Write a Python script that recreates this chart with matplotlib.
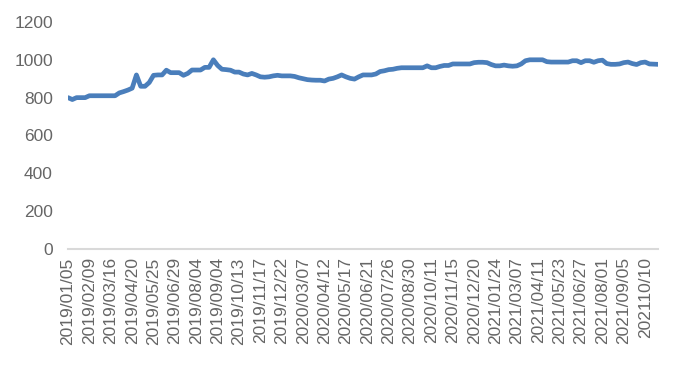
import matplotlib
matplotlib.use("Agg")
import matplotlib.pyplot as plt

# --------------
# Data (weekly series, every 5th point labelled)
# --------------
tick_labels = [
    "2019/01/05", "2019/02/09", "2019/03/16", "2019/04/20", "2019/05/25",
    "2019/06/29", "2019/08/04", "2019/09/04", "2019/10/13", "2019/11/17",
    "2019/12/22", "2020/03/07", "2020/04/12", "2020/05/17", "2020/06/21",
    "2020/07/26", "2020/08/30", "2020/10/11", "2020/11/15", "2020/12/20",
    "2021/01/24", "2021/03/07", "2021/04/11", "2021/05/23", "2021/06/27",
    "2021/08/01", "2021/09/05", "202110/10",
]

values = [
    800, 790, 800, 800, 800, 810, 810, 810, 810, 810,
    810, 810, 825, 832, 840, 850, 920, 860, 860, 880,
    918, 920, 920, 945, 932, 932, 932, 918, 928, 946,
    946, 946, 960, 960, 1000, 970, 950, 948, 945, 935,
    935, 925, 920, 928, 920, 910, 908, 910, 915, 918,
    915, 915, 915, 912, 905, 900, 895, 893, 892, 892,
    888, 898, 902, 910, 920, 910, 902, 898, 910, 920,
    920, 920, 925, 938, 942, 948, 950, 955, 958, 958,
    958, 958, 958, 958, 968, 958, 958, 965, 970, 970,
    978, 978, 978, 978, 978, 985, 987, 987, 985, 975,
    968, 968, 972, 968, 966, 968, 978, 995, 1000, 1000,
    1000, 1000, 990, 988, 988, 988, 988, 988, 995, 995,
    985, 995, 995, 987, 995, 998, 980, 976, 976, 978,
    985, 988, 980, 975, 985, 988, 978, 977, 976,
]

step = 5
yticks = [0, 200, 400, 600, 800, 1000, 1200]

# --------------
# Plot
# --------------
plt.rcParams['font.family'] = ['Liberation Sans', 'DejaVu Sans']
text_color = "#666666"

fig = plt.figure(figsize=(6.81, 3.66), dpi=100)
ax = fig.add_axes([0.0999, 0.3197, 0.8663, 0.6203])

x = list(range(len(values)))
ax.plot(x, values, color="#4a7ebb", linewidth=3.4, solid_capstyle="round",
        solid_joinstyle="round")

ax.set_xlim(0, len(values) - 1)
ax.set_ylim(0, 1200)
ax.set_yticks(yticks)
ax.set_yticklabels([str(v) for v in yticks])
ax.set_xticks(list(range(0, step * len(tick_labels), step)))
ax.set_xticklabels(tick_labels, rotation=90, va="top", ha="center")

for side in ["top", "right", "left"]:
    ax.spines[side].set_visible(False)
ax.spines["bottom"].set_color("#d9d9d9")
ax.spines["bottom"].set_linewidth(1.5)

ax.tick_params(axis="y", length=0, pad=11, labelsize=12.5, labelcolor=text_color)
ax.tick_params(axis="x", length=0, pad=6, labelsize=12.5, labelcolor=text_color)

fig.savefig("out.png", dpi=100)
